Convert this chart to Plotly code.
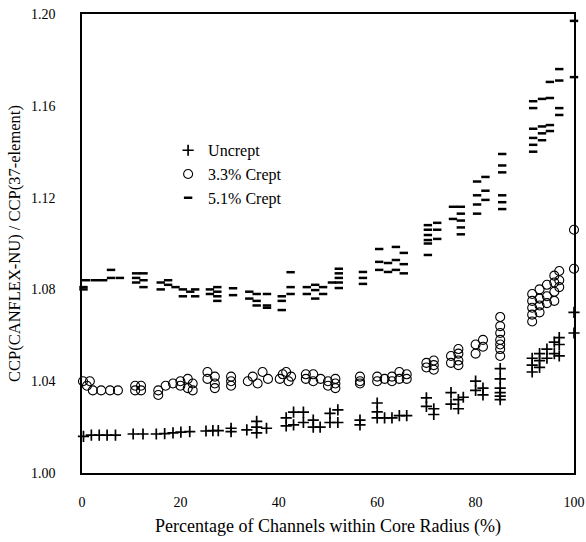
import plotly.graph_objects as go

# Uncrept
unc_x = [0.3,1.9,3.5,5.1,6.8, 10.4,12.4, 15.1,16.8,18.5,20.1,21.9, 25.2,26.6,27.7, 30.3,30.3,
         33.5,35.5,35.5,35.5,37.5, 41.5,41.5,43,43, 45,45,47,47,48.4,50.4,50.4,52,52, 56.5,56.5,
         60,60,60,61.5,63,64.5,66, 70,70,71.5,71.5, 75,75,76.5,76.5,77.5, 80,80,81.5,81.5,
         85,85,85,85,85,85, 91.5,91.5,91.5,93,93,93,94.5,94.5,96,96,97,97,97, 100,100]
unc_y = [1.016,1.0165,1.0165,1.0165,1.0165, 1.017,1.017, 1.017,1.0172,1.0175,1.0178,1.018,
         1.0183,1.0185,1.0185, 1.0195,1.018, 1.0188,1.0225,1.020,1.0175,1.0195,
         1.0205,1.024,1.0265,1.021, 1.0265,1.022,1.023,1.020,1.020,1.026,1.022,1.0275,1.022,
         1.023,1.021, 1.0305,1.0266,1.024,1.024,1.024,1.025,1.025, 1.0327,1.029,1.0255,1.028,
         1.035,1.030,1.032,1.028,1.033, 1.040,1.036,1.034,1.037,
         1.0455,1.041,1.037,1.035,1.0335,1.032,
         1.047,1.044,1.050,1.052,1.049,1.046,1.054,1.050,1.057,1.052,1.059,1.056,1.051,
         1.070,1.061]

# 3.3% Crept
c33_x = [0.2,1.6,1.0,2.2,3.9,5.7,7.3, 10.8,10.8,12,12,
         15.5,15.5,17,18.5,20,20,21.5,21.5,22.5,22.5, 25.5,25.5,27,27,27, 30.3,30.3,30.3,
         33.7,34.7,35.7,36.7,37.8, 40.2,40.8,41.5,42,42.5,
         45.5,45.5,47,47,48.5,50,50,51.5,51.5,51.5, 56.5,56.5,56.5,
         60,60,61.5,63,63,64.5,64.5,66,66, 70,70,71.5,71.5,71.5,
         75,75,76.5,76.5,76.5,76.5, 80,80,81.5,81.5, 85,85,85,85,85,85,85,
         91.5,91.5,91.5,91.5,91.5, 93,93,93,93, 94.5,94.5,94.5, 96,96,96,96, 97,97,97, 100,100]
c33_y = [1.040,1.040,1.038,1.036,1.036,1.036,1.036, 1.038,1.036,1.038,1.036,
         1.036,1.034,1.038,1.039,1.040,1.038,1.041,1.037,1.039,1.036,
         1.044,1.041,1.042,1.039,1.037, 1.042,1.040,1.038,
         1.040,1.042,1.039,1.044,1.041, 1.041,1.043,1.044,1.040,1.042,
         1.043,1.041,1.043,1.040,1.041,1.040,1.038,1.041,1.039,1.037, 1.042,1.040,1.039,
         1.040,1.042,1.041,1.042,1.040,1.044,1.041,1.043,1.041, 1.046,1.048,1.047,1.045,1.049,
         1.051,1.048,1.054,1.052,1.049,1.047, 1.056,1.052,1.058,1.055,
         1.068,1.064,1.061,1.058,1.056,1.054,1.051,
         1.078,1.075,1.072,1.069,1.066, 1.080,1.076,1.073,1.070, 1.082,1.077,1.074,
         1.086,1.083,1.079,1.075, 1.088,1.084,1.081, 1.106,1.089]

# 5.1% Crept
c51_x = [0.3,0.3,0.8,2.6,4.3,5.9,5.9,7.7, 11,11,11,12.5,12.5,12.5,
         16,16,17.5,17.5,19,20.5,20.5,22,23,23, 26,26,27.5,27.5,27.5,27.5, 30.7,30.7,
         34,34,35.5,35.5,35.5, 37.6,37.6,37.6, 40.6,40.6,40.6, 42.4,42.4,42.4,
         45.7,45.7,47.4,47.4,47.4,49,49, 50.8, 52.2,52.2,52.2,52.2,52.2, 57.1,57.1,57.1,
         60.4,60.4,60.4, 62.2,62.2, 63.8,63.8,63.8, 65.4,65.4,65.4,
         70.3,70.3,70.3,70.3,70.3,70.3, 72.2,72.2,72.2, 75.4,75.4, 77,77,77,77,77,
         80.3,80.3,80.3,80.3, 82,82,82, 85.4,85.4,85.4,85.4,85.4,85.4,
         91.7,91.7,91.7,91.7,91.7,91.7, 93.5,93.5,93.5,93.5, 95.1,95.1,95.1,95.1,
         97,97,97,97, 100,100]
c51_y = [1.081,1.080,1.084,1.084,1.084,1.0885,1.085,1.085, 1.087,1.085,1.083,1.087,1.084,1.081,
         1.083,1.080,1.084,1.082,1.081,1.080,1.077,1.079,1.080,1.077,
         1.080,1.078,1.081,1.079,1.077,1.075, 1.0805,1.0775,
         1.079,1.076,1.078,1.075,1.073, 1.078,1.073,1.072, 1.077,1.075,1.071, 1.0875,1.081,1.078,
         1.081,1.078,1.082,1.0797,1.076,1.081,1.078, 1.083, 1.089,1.087,1.085,1.083,1.0806,
         1.0876,1.085,1.0824, 1.0976,1.092,1.0885, 1.0915,1.0876, 1.0985,1.0928,1.0885,
         1.0959,1.091,1.087,
         1.108,1.106,1.1037,1.1015,1.100,1.095, 1.109,1.106,1.102, 1.116,1.1107,
         1.116,1.113,1.110,1.107,1.104, 1.127,1.121,1.117,1.113, 1.129,1.123,1.119,
         1.139,1.134,1.131,1.121,1.118,1.115,
         1.162,1.159,1.150,1.146,1.143,1.140, 1.163,1.151,1.148,1.145,
         1.1704,1.1634,1.1516,1.149, 1.176,1.171,1.159,1.156, 1.197,1.1725]

x_ticks = [0, 20, 40, 60, 80, 100]
y_ticks = [1.00, 1.04, 1.08, 1.12, 1.16, 1.20]

FONT = "Liberation Serif, Times New Roman, serif"

fig = go.Figure()
fig.add_trace(go.Scatter(x=unc_x, y=unc_y, mode="markers", name="Uncrept",
                         marker=dict(symbol="cross-thin", size=8, color="black",
                                     line=dict(color="black", width=1.7)),
                         cliponaxis=False))
fig.add_trace(go.Scatter(x=c33_x, y=c33_y, mode="markers", name="3.3% Crept",
                         marker=dict(symbol="circle-open", size=9, color="black",
                                     line=dict(color="black", width=1.1)),
                         cliponaxis=False))
fig.add_trace(go.Scatter(x=c51_x, y=c51_y, mode="markers", name="5.1% Crept",
                         marker=dict(symbol="line-ew", size=6, color="black",
                                     line=dict(color="black", width=2.5)),
                         cliponaxis=False))

fig.update_layout(
    width=586, height=542,
    margin=dict(l=82, r=12, t=14, b=69, autoexpand=False),
    paper_bgcolor="white", plot_bgcolor="white",
    font=dict(family=FONT, size=14, color="black"),
    showlegend=True,
    legend=dict(x=0.175, y=0.74, xanchor="left", yanchor="top",
                bgcolor="rgba(0,0,0,0)", font=dict(family=FONT, size=16),
                tracegroupgap=0, itemwidth=30),
)
fig.update_xaxes(range=[0, 100], tickvals=x_ticks, ticktext=[str(v) for v in x_ticks],
                 showgrid=False, zeroline=False, showline=True, linecolor="black",
                 linewidth=1.5, mirror=True, ticks="", ticklabelstandoff=15, automargin=False,
                 tickfont=dict(family=FONT, size=14),
                 title=dict(text="Percentage of Channels within Core Radius (%)",
                            font=dict(family=FONT, size=18), standoff=11))
fig.update_yaxes(range=[1.00, 1.20], tickvals=y_ticks, ticktext=[f"{v:.2f}" for v in y_ticks],
                 showgrid=False, zeroline=False, showline=True, linecolor="black",
                 linewidth=1.5, mirror=True, ticks="", ticklabelstandoff=22, automargin=False,
                 tickfont=dict(family=FONT, size=14),
                 title=dict(text="CCP(CANFLEX-NU) / CCP(37-element)",
                            font=dict(family=FONT, size=16.5), standoff=6))

fig.write_html("out.html", config={"displayModeBar": False},
               post_script="document.body.style.margin='0';document.body.style.padding='0';")
